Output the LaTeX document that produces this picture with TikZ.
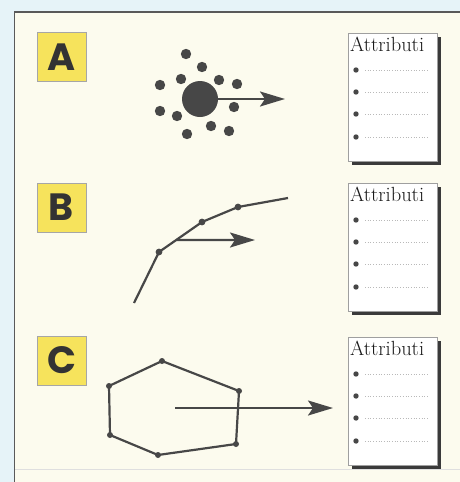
\documentclass[tikz,border=0pt]{standalone}
\usepackage{fontspec}
\newfontfamily\letterfont{Poppins}
\usetikzlibrary{arrows.meta,shadows,calc}
\definecolor{bgblue}{HTML}{E6F3F8}
\definecolor{cream}{HTML}{FCFBEE}
\definecolor{lyellow}{HTML}{F6E35C}
\definecolor{ink}{HTML}{474747}
\definecolor{shadowc}{HTML}{3A3A3A}
\begin{document}
\begin{tikzpicture}[x=1pt,y=-1pt,
  frame/.style={draw=ink!90, line width=1.5pt},
  letterbox/.style={draw=gray!70, line width=0.8pt, fill=lyellow, minimum size=49pt, inner sep=0pt,
    font=\letterfont\bfseries\fontsize{38}{38}\selectfont, text=black!80},
  attrbox/.style={draw=gray!75, line width=0.8pt, fill=white, minimum width=89pt, minimum height=128pt,
    inner sep=0pt, anchor=north west,
    drop shadow={shadow xshift=4pt, shadow yshift=-4pt, fill=shadowc, opacity=1}},
  attrtitle/.style={anchor=base west, inner sep=0pt, font=\fontsize{20.5}{20.5}\selectfont, text=black!90},
  bullet/.style={fill=ink},
  dotline/.style={gray!55, dotted, line width=0.7pt},
  bigdot/.style={circle, fill=ink, minimum size=36pt, inner sep=0pt},
  arr/.style={draw=ink, line width=2.2pt, -{Stealth[length=25pt, width=15pt, inset=5pt]}},
  polyl/.style={draw=ink, line width=2.2pt, line join=round},
  vdot/.style={fill=ink}
]
\useasboundingbox (0,0) rectangle (460,482);
\fill[bgblue] (0,0) rectangle (460,482);
\fill[cream] (14.5,12) rectangle (460,482);
\draw[gray!25, line width=0.8pt] (14.5,469) -- (460,469);
\draw[frame] (460,12) -- (14.5,12) -- (14.5,482);

% letter boxes
\node[letterbox] (la) at (61.5,57) {A};
\node[letterbox] (lb) at (61.5,207.5) {B};
\node[letterbox] (lc) at (61.5,360.5) {C};

% attribute boxes
\foreach \nm/\top in {ba/33, bb/183, bc/337}{
  \node[attrbox] (\nm) at (348,\top) {};
  \node[attrtitle] (\nm t) at (350,\top+18) {Attributi};
  \foreach \dy in {37,59,81,104}{
    \fill[bullet] (356,\top+\dy) circle (2.7);
    \draw[dotline] (365,\top+\dy) -- (428,\top+\dy);
  }
}

% A: atom
\foreach \p in {(186,54),(202,67),(181,79),(219,80),(237,84),(160,85),(234,107),(160,111),(177,116),(211,126),(187,134),(229,131)}
  \fill[ink] \p circle (5.2);
\node[bigdot] (core) at (200,99) {};
\coordinate (aend) at (285,99);
\draw[arr] (core.east) -- (aend);

% B: polyline
\coordinate (b0) at (134,303);
\coordinate (b1) at (159,252);
\coordinate (b2) at (202,222);
\coordinate (b3) at (238,207);
\coordinate (b4) at (288,198);
\draw[polyl] (b0) -- (b1) -- (b2) -- (b3) -- (b4);
\foreach \c in {b1,b2,b3} \fill[vdot] (\c) circle (3.4);
\coordinate (bs) at ($(b1)!0.4!(b2)$);
\coordinate (bt) at (255,240);
\draw[arr] (bs) -- (bt);

% C: polygon
\coordinate (c1) at (162,361);
\coordinate (c2) at (239,391);
\coordinate (c3) at (236,444);
\coordinate (c4) at (158,455);
\coordinate (c5) at (110,435);
\coordinate (c6) at (109,386);
\draw[polyl] (c1) -- (c2) -- (c3) -- (c4) -- (c5) -- (c6) -- cycle;
\foreach \c in {c1,c2,c3,c4,c5,c6} \fill[vdot] (\c) circle (3);
\coordinate (cs) at (175,408);
\coordinate (ct) at (333,408);
\draw[arr] (cs) -- (ct);
\end{tikzpicture}
\end{document}
